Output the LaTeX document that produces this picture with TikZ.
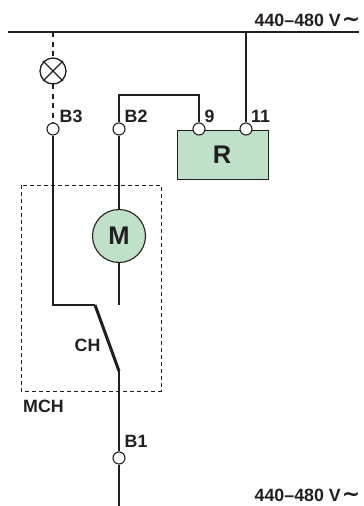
\documentclass[tikz,border=0pt]{standalone}
\usepackage{fontspec}
\setmainfont{Liberation Sans}
\newfontfamily\symfont{DejaVu Sans}
\usetikzlibrary{shapes.misc}
\definecolor{ink}{HTML}{231F20}
\definecolor{pale}{HTML}{BFE1C8}
\tikzset{
  x=1pt,y=-1pt,
  wire/.style={draw=ink,line width=1.3pt},
  dashwire/.style={draw=ink,line width=1.1pt,dash pattern=on 5pt off 4.5pt},
  term/.style={circle,draw=ink,fill=white,line width=1.1pt,minimum size=12pt,inner sep=0pt},
  lbl/.style={font=\bfseries\fontsize{17.8}{18}\selectfont,text=ink,inner sep=0pt,anchor=base west},
  big/.style={font=\bfseries\fontsize{25.5}{26}\selectfont,text=ink,inner sep=0pt},
}
\begin{document}
\begin{tikzpicture}
\useasboundingbox (0,0) rectangle (364,506);
% dashed enclosure
\draw[draw=ink,line width=0.8pt,dash pattern=on 4pt off 3pt] (21,185) rectangle (161,391);
% bus
\coordinate (busL) at (8,32);
\coordinate (busR) at (359,32);
\coordinate (busA) at (53,32);
\coordinate (busB) at (246,32);
\draw[draw=ink,line width=2pt] (busL) -- (busR);
% relay
\node[rectangle,draw=ink,fill=pale,line width=1.3pt,minimum width=91pt,minimum height=49pt,inner sep=0pt,anchor=north west] (R) at (177,129.5) {};
\node[big] (Rt) at (222,155) {R};
% motor
\node[circle,draw=ink,fill=pale,line width=1.1pt,minimum size=53pt,inner sep=0pt] (M) at (119,236) {};
\node[big] (Mt) at (119,236) {M};
% lamp
\node[circle,cross out,draw=ink,line width=1.3pt,minimum size=18.5pt,inner sep=0pt] (L) at (53,71) {};
\draw[draw=ink,line width=1.3pt] (L.center) circle (13);
\coordinate (Ltop) at (53,84);
\coordinate (Lup) at (53,58);
% terminals
\node[term] (B3) at (53,129) {};
\node[term] (B2) at (119,129) {};
\node[term] (T9) at (199,129) {};
\node[term] (T11) at (246,129) {};
\node[term] (B1) at (119,458) {};
% connectors
\draw[dashwire] (busA) -- (Lup);
\draw[dashwire] (Ltop) -- (B3);
\draw[wire] (busB) -- (T11);
\draw[wire,line join=miter] (B2) -- (119,95) -- (199,95) -- (T9);
\draw[wire] (B2) -- (M);
\coordinate (Mend) at (119,305);
\draw[wire] (M) -- (Mend);
\coordinate (swA) at (95,305);
\coordinate (swB) at (119,371);
\draw[wire,line width=1.5pt] (B3) -- (53,305) -- (swA);
\draw[draw=ink,line width=3pt] (swA) -- (swB);
\draw[wire] (swB) -- (B1);
\coordinate (end) at (119,506);
\draw[wire] (B1) -- (end);
% labels
\node[lbl] (lB3) at (59.5,122.7) {B3};
\node[lbl] (lB2) at (124.5,122.7) {B2};
\node[lbl] (l9) at (204.5,122.7) {9};
\node[lbl] (l11) at (251,122.7) {11};
\node[lbl] (lCH) at (74.5,351) {CH};
\node[lbl] (lMCH) at (23,412) {MCH};
\node[lbl] (lB1) at (124.5,447) {B1};
\node[lbl] (vt) at (254.5,26) {440–480 V\kern1pt{\symfont\fontsize{22}{22}\selectfont ∼}};
\node[lbl] (vb) at (254.5,501.5) {440–480 V\kern1pt{\symfont\fontsize{22}{22}\selectfont ∼}};
\end{tikzpicture}
\end{document}
